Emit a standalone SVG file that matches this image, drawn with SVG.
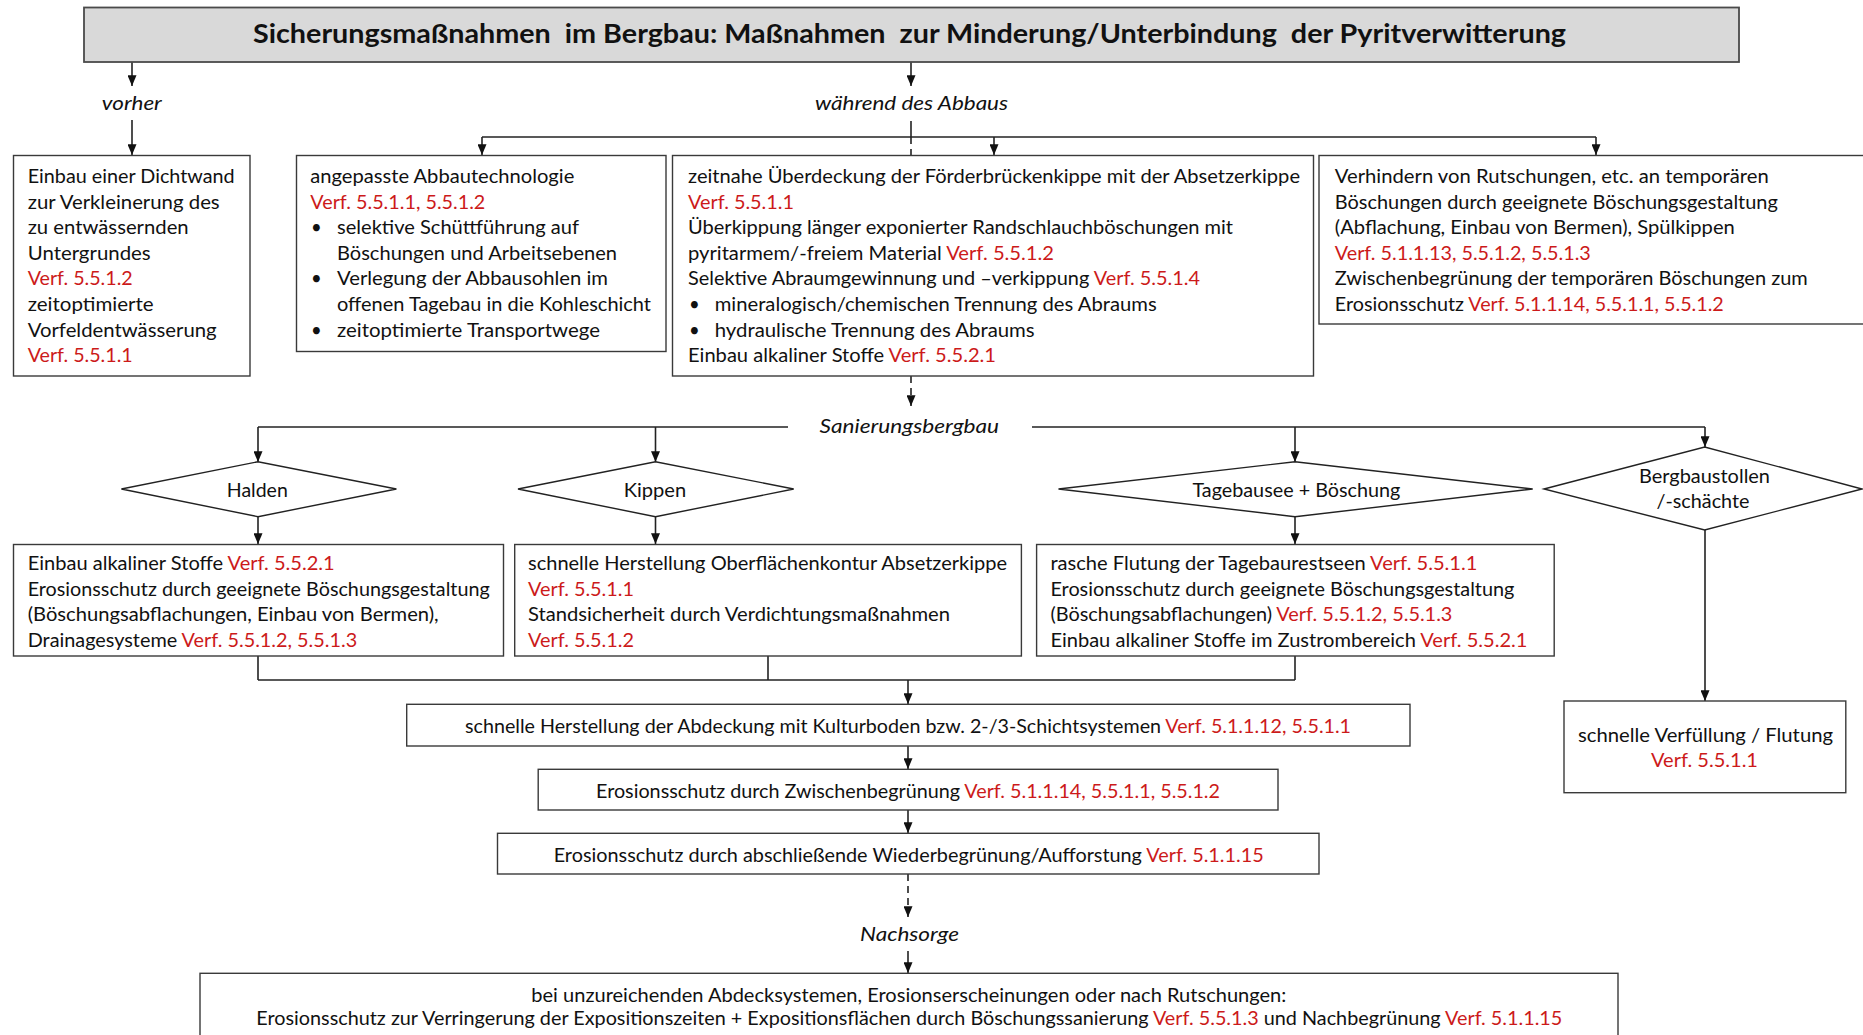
<svg xmlns="http://www.w3.org/2000/svg" width="1863" height="1035" viewBox="0 0 1863 1035">
<defs>
<marker id="ah" viewBox="0 0 12 10" refX="12" refY="5" markerWidth="11" markerHeight="9" orient="auto" markerUnits="userSpaceOnUse">
<path d="M0,0 L12,5 L0,10 z" fill="#111"/>
</marker>
</defs>
<style>
.t{font-family:Lato,'Liberation Sans',sans-serif;font-size:18.5px;fill:#111;}
.r{fill:#cc1a1a;}
.i{font-style:italic;}
.b{font-weight:bold;font-size:26.5px;}
.box{fill:#fff;stroke:#3a3a3a;stroke-width:1.4;}
.ttl{fill:#d9d9d9;stroke:#4a4a4a;stroke-width:1.8;}
.dia{fill:#fff;stroke:#222;stroke-width:1.4;}
.ln{stroke:#222;stroke-width:1.6;fill:none;}
.ar{marker-end:url(#ah);}
.d{stroke-dasharray:7 5;}
</style>
<rect width="1863" height="1035" fill="#fff"/>

<g id="connectors">
<line class="ln ar" x1="132" y1="62" x2="132" y2="86"/>
<line class="ln ar" x1="132" y1="120" x2="132" y2="155"/>
<line class="ln ar" x1="911" y1="62" x2="911" y2="86"/>
<line class="ln" x1="911" y1="121" x2="911" y2="137"/>
<line class="ln" x1="482" y1="137" x2="1596" y2="137"/>
<line class="ln ar" x1="482" y1="137" x2="482" y2="155"/>
<line class="ln ar" x1="994" y1="137" x2="994" y2="155"/>
<line class="ln ar" x1="1596" y1="137" x2="1596" y2="155"/>
<line class="ln d" x1="911" y1="137" x2="911" y2="155"/>
<line class="ln d ar" x1="911" y1="376" x2="911" y2="406"/>
<polyline class="ln" points="258,427 788,427"/>
<polyline class="ln" points="1032,427 1705,427"/>
<line class="ln ar" x1="258" y1="427" x2="258" y2="462"/>
<line class="ln ar" x1="655.5" y1="427" x2="655.5" y2="462"/>
<line class="ln ar" x1="1295" y1="427" x2="1295" y2="462"/>
<line class="ln ar" x1="1705" y1="427" x2="1705" y2="447"/>
<line class="ln ar" x1="258" y1="517" x2="258" y2="544"/>
<line class="ln ar" x1="655.5" y1="517" x2="655.5" y2="544"/>
<line class="ln ar" x1="1295" y1="517" x2="1295" y2="544"/>
<line class="ln ar" x1="1705" y1="530" x2="1705" y2="701"/>
<line class="ln" x1="258" y1="656" x2="258" y2="680"/>
<line class="ln" x1="768" y1="656" x2="768" y2="680"/>
<line class="ln" x1="1295" y1="656" x2="1295" y2="680"/>
<line class="ln" x1="258" y1="680" x2="1295" y2="680"/>
<line class="ln ar" x1="908" y1="680" x2="908" y2="704"/>
<line class="ln ar" x1="908" y1="746" x2="908" y2="769"/>
<line class="ln ar" x1="908" y1="810" x2="908" y2="833"/>
<line class="ln d ar" x1="908" y1="874" x2="908" y2="917"/>
<line class="ln ar" x1="908" y1="951" x2="908" y2="973"/>
</g>

<g id="title">
<rect class="ttl" x="84" y="7.5" width="1655" height="54.5"/>
<text class="t b" x="253" y="43.3" textLength="1313" lengthAdjust="spacingAndGlyphs" xml:space="preserve">Sicherungsmaßnahmen  im Bergbau: Maßnahmen  zur Minderung/Unterbindung  der Pyritverwitterung</text>
</g>

<g id="lbl-vorher"><text class="t i" x="101.8" y="110" textLength="60" lengthAdjust="spacingAndGlyphs">vorher</text></g>
<g id="lbl-waehrend"><text class="t i" x="815" y="110" textLength="193" lengthAdjust="spacingAndGlyphs">während des Abbaus</text></g>
<g id="lbl-sanierung"><text class="t i" x="819.6" y="433" textLength="179.5" lengthAdjust="spacingAndGlyphs">Sanierungsbergbau</text></g>
<g id="lbl-nachsorge"><text class="t i" x="860" y="941" textLength="99" lengthAdjust="spacingAndGlyphs">Nachsorge</text></g>

<g id="box-vorher">
<rect class="box" x="13.5" y="155.5" width="236.5" height="220.5"/>
<text class="t" x="27.7" y="183" textLength="207" lengthAdjust="spacingAndGlyphs">Einbau einer Dichtwand</text>
<text class="t" x="27.7" y="208.6" textLength="192" lengthAdjust="spacingAndGlyphs">zur Verkleinerung des</text>
<text class="t" x="27.7" y="234.2" textLength="161" lengthAdjust="spacingAndGlyphs">zu entwässernden</text>
<text class="t" x="27.7" y="259.8" textLength="123" lengthAdjust="spacingAndGlyphs">Untergrundes</text>
<text class="t r" x="27.7" y="285.4" textLength="105" lengthAdjust="spacingAndGlyphs">Verf. 5.5.1.2</text>
<text class="t" x="27.7" y="311" textLength="126" lengthAdjust="spacingAndGlyphs">zeitoptimierte</text>
<text class="t" x="27.7" y="336.6" textLength="189" lengthAdjust="spacingAndGlyphs">Vorfeldentwässerung</text>
<text class="t r" x="27.7" y="362.2" textLength="105" lengthAdjust="spacingAndGlyphs">Verf. 5.5.1.1</text>
</g>

<g id="box-abbautechnologie">
<rect class="box" x="296.5" y="155.5" width="369.5" height="196"/>
<text class="t" x="310.3" y="183" textLength="264" lengthAdjust="spacingAndGlyphs">angepasste Abbautechnologie</text>
<text class="t r" x="310.3" y="208.6" textLength="175" lengthAdjust="spacingAndGlyphs">Verf. 5.5.1.1, 5.5.1.2</text>
<text class="t" x="311" y="234.2">•</text>
<text class="t" x="337" y="234.2" textLength="242" lengthAdjust="spacingAndGlyphs">selektive Schüttführung auf</text>
<text class="t" x="337" y="259.8" textLength="280" lengthAdjust="spacingAndGlyphs">Böschungen und Arbeitsebenen</text>
<text class="t" x="311" y="285.4">•</text>
<text class="t" x="337" y="285.4" textLength="271" lengthAdjust="spacingAndGlyphs">Verlegung der Abbausohlen im</text>
<text class="t" x="337" y="311" textLength="314" lengthAdjust="spacingAndGlyphs">offenen Tagebau in die Kohleschicht</text>
<text class="t" x="311" y="336.6">•</text>
<text class="t" x="337" y="336.6" textLength="263" lengthAdjust="spacingAndGlyphs">zeitoptimierte Transportwege</text>
</g>

<g id="box-ueberdeckung">
<rect class="box" x="672.5" y="155.5" width="641" height="220.5"/>
<text class="t" x="688" y="183" textLength="612" lengthAdjust="spacingAndGlyphs">zeitnahe Überdeckung der Förderbrückenkippe mit der Absetzerkippe</text>
<text class="t r" x="688" y="208.6" textLength="106" lengthAdjust="spacingAndGlyphs">Verf. 5.5.1.1</text>
<text class="t" x="688" y="234.2" textLength="545" lengthAdjust="spacingAndGlyphs">Überkippung länger exponierter Randschlauchböschungen mit</text>
<text class="t" x="688" y="259.8" textLength="366" lengthAdjust="spacingAndGlyphs">pyritarmem/-freiem Material <tspan class="r">Verf. 5.5.1.2</tspan></text>
<text class="t" x="688" y="285.4" textLength="512" lengthAdjust="spacingAndGlyphs">Selektive Abraumgewinnung und –verkippung <tspan class="r">Verf. 5.5.1.4</tspan></text>
<text class="t" x="689" y="311">•</text>
<text class="t" x="714.7" y="311" textLength="442" lengthAdjust="spacingAndGlyphs">mineralogisch/chemischen Trennung des Abraums</text>
<text class="t" x="689" y="336.6">•</text>
<text class="t" x="714.7" y="336.6" textLength="320" lengthAdjust="spacingAndGlyphs">hydraulische Trennung des Abraums</text>
<text class="t" x="688" y="362.2" textLength="308" lengthAdjust="spacingAndGlyphs">Einbau alkaliner Stoffe <tspan class="r">Verf. 5.5.2.1</tspan></text>
</g>

<g id="box-rutschungen">
<rect class="box" x="1319" y="155.5" width="560" height="168.5"/>
<text class="t" x="1334.8" y="183" textLength="434" lengthAdjust="spacingAndGlyphs">Verhindern von Rutschungen, etc. an temporären</text>
<text class="t" x="1334.8" y="208.6" textLength="443" lengthAdjust="spacingAndGlyphs">Böschungen durch geeignete Böschungsgestaltung</text>
<text class="t" x="1334.8" y="234.2" textLength="400" lengthAdjust="spacingAndGlyphs">(Abflachung, Einbau von Bermen), Spülkippen</text>
<text class="t r" x="1334.8" y="259.8" textLength="256" lengthAdjust="spacingAndGlyphs">Verf. 5.1.1.13, 5.5.1.2, 5.5.1.3</text>
<text class="t" x="1334.8" y="285.4" textLength="473" lengthAdjust="spacingAndGlyphs">Zwischenbegrünung der temporären Böschungen zum</text>
<text class="t" x="1334.8" y="311" textLength="389" lengthAdjust="spacingAndGlyphs">Erosionsschutz <tspan class="r">Verf. 5.1.1.14, 5.5.1.1, 5.5.1.2</tspan></text>
</g>

<g id="dia-halden">
<polygon class="dia" points="121.4,489 258,461.7 396.4,489 258,516.7"/>
<text class="t" x="226.8" y="496.7" textLength="61" lengthAdjust="spacingAndGlyphs">Halden</text>
</g>
<g id="dia-kippen">
<polygon class="dia" points="518,489 655.5,461.7 793.7,489 655.5,516.7"/>
<text class="t" x="623.7" y="496.7" textLength="62.5" lengthAdjust="spacingAndGlyphs">Kippen</text>
</g>
<g id="dia-tagebausee">
<polygon class="dia" points="1058.5,489 1295,461.7 1532.7,489 1295,516.7"/>
<text class="t" x="1192.4" y="496.7" textLength="208" lengthAdjust="spacingAndGlyphs">Tagebausee + Böschung</text>
</g>
<g id="dia-bergbaustollen">
<polygon class="dia" points="1544,489 1704.7,447 1862,489 1704.7,530"/>
<text class="t" x="1639" y="483" textLength="131" lengthAdjust="spacingAndGlyphs">Bergbaustollen</text>
<text class="t" x="1656.5" y="507.7" textLength="93" lengthAdjust="spacingAndGlyphs">/-schächte</text>
</g>

<g id="box-halden">
<rect class="box" x="13.5" y="544.5" width="490" height="111.5"/>
<text class="t" x="27.7" y="570" textLength="307" lengthAdjust="spacingAndGlyphs">Einbau alkaliner Stoffe <tspan class="r">Verf. 5.5.2.1</tspan></text>
<text class="t" x="27.7" y="595.6" textLength="462" lengthAdjust="spacingAndGlyphs">Erosionsschutz durch geeignete Böschungsgestaltung</text>
<text class="t" x="27.7" y="621.2" textLength="411" lengthAdjust="spacingAndGlyphs">(Böschungsabflachungen, Einbau von Bermen),</text>
<text class="t" x="27.7" y="646.8" textLength="329.5" lengthAdjust="spacingAndGlyphs">Drainagesysteme <tspan class="r">Verf. 5.5.1.2, 5.5.1.3</tspan></text>
</g>

<g id="box-kippen">
<rect class="box" x="514.7" y="544.5" width="506.7" height="111.5"/>
<text class="t" x="528" y="570" textLength="479" lengthAdjust="spacingAndGlyphs">schnelle Herstellung Oberflächenkontur Absetzerkippe</text>
<text class="t r" x="528" y="595.6" textLength="106" lengthAdjust="spacingAndGlyphs">Verf. 5.5.1.1</text>
<text class="t" x="528" y="621.2" textLength="422" lengthAdjust="spacingAndGlyphs">Standsicherheit durch Verdichtungsmaßnahmen</text>
<text class="t r" x="528" y="646.8" textLength="106" lengthAdjust="spacingAndGlyphs">Verf. 5.5.1.2</text>
</g>

<g id="box-tagebausee">
<rect class="box" x="1036.6" y="544.5" width="517.6" height="111.5"/>
<text class="t" x="1050.4" y="570" textLength="427" lengthAdjust="spacingAndGlyphs">rasche Flutung der Tagebaurestseen <tspan class="r">Verf. 5.5.1.1</tspan></text>
<text class="t" x="1050.4" y="595.6" textLength="464" lengthAdjust="spacingAndGlyphs">Erosionsschutz durch geeignete Böschungsgestaltung</text>
<text class="t" x="1050.4" y="621.2" textLength="402" lengthAdjust="spacingAndGlyphs">(Böschungsabflachungen) <tspan class="r">Verf. 5.5.1.2, 5.5.1.3</tspan></text>
<text class="t" x="1050.4" y="646.8" textLength="477" lengthAdjust="spacingAndGlyphs">Einbau alkaliner Stoffe im Zustrombereich <tspan class="r">Verf. 5.5.2.1</tspan></text>
</g>

<g id="box-verfuellung">
<rect class="box" x="1564" y="701" width="281.8" height="91.7"/>
<text class="t" x="1578" y="741.7" textLength="255" lengthAdjust="spacingAndGlyphs">schnelle Verfüllung / Flutung</text>
<text class="t r" x="1651" y="766.7" textLength="107" lengthAdjust="spacingAndGlyphs">Verf. 5.5.1.1</text>
</g>

<g id="box-abdeckung">
<rect class="box" x="406.7" y="704.3" width="1003.3" height="41.7"/>
<text class="t" x="465" y="733" textLength="886" lengthAdjust="spacingAndGlyphs">schnelle Herstellung der Abdeckung mit Kulturboden bzw. 2-/3-Schichtsystemen <tspan class="r">Verf. 5.1.1.12, 5.5.1.1</tspan></text>
</g>

<g id="box-zwischenbegruenung">
<rect class="box" x="538.2" y="769.3" width="739.8" height="40.7"/>
<text class="t" x="596" y="797.5" textLength="624" lengthAdjust="spacingAndGlyphs">Erosionsschutz durch Zwischenbegrünung <tspan class="r">Verf. 5.1.1.14, 5.5.1.1, 5.5.1.2</tspan></text>
</g>

<g id="box-wiederbegruenung">
<rect class="box" x="497.5" y="833.3" width="821.5" height="40.7"/>
<text class="t" x="553.7" y="861.5" textLength="710" lengthAdjust="spacingAndGlyphs">Erosionsschutz durch abschließende Wiederbegrünung/Aufforstung <tspan class="r">Verf. 5.1.1.15</tspan></text>
</g>

<g id="box-nachsorge">
<rect class="box" x="200" y="973.3" width="1418" height="80"/>
<text class="t" x="531.3" y="1001.5" textLength="755" lengthAdjust="spacingAndGlyphs">bei unzureichenden Abdecksystemen, Erosionserscheinungen oder nach Rutschungen:</text>
<text class="t" x="256.3" y="1025" textLength="1306" lengthAdjust="spacingAndGlyphs">Erosionsschutz zur Verringerung der Expositionszeiten + Expositionsflächen durch Böschungssanierung <tspan class="r">Verf. 5.5.1.3</tspan> und Nachbegrünung <tspan class="r">Verf. 5.1.1.15</tspan></text>
</g>
</svg>
